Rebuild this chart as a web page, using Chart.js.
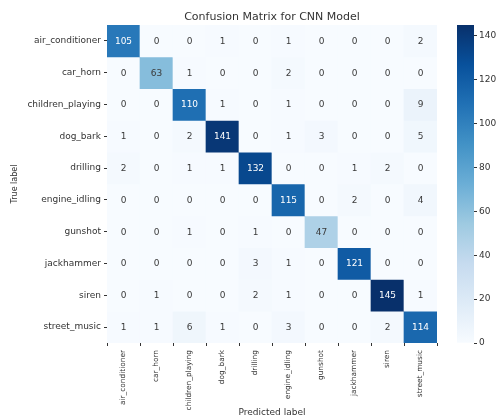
<!DOCTYPE html>
<html><head><meta charset="utf-8">
<script src="https://cdn.jsdelivr.net/npm/chart.js@4/dist/chart.umd.min.js"></script>
<style>
html,body{margin:0;padding:0;background:#fff;}
#wrap{position:relative;width:501px;height:418px;overflow:hidden;}
#main{position:absolute;left:0;top:0;}
#cbar{position:absolute;left:445px;top:0;}
</style></head><body>
<div id="wrap">
<canvas id="main" width="445" height="418"></canvas>
<canvas id="cbar" width="56" height="418"></canvas>
</div>
<script>
const trueLabels = ['air_conditioner','car_horn','children_playing','dog_bark','drilling','engine_idling','gunshot','jackhammer','siren','street_music'];
const predictedLabels = ['air_conditioner','car_horn','children_playing','dog_bark','drilling','engine_idling','gunshot','jackhammer','siren','street_music'];

const airConditionerRow  = [105, 0, 0, 1, 0, 1, 0, 0, 0, 2];
const carHornRow         = [0, 63, 1, 0, 0, 2, 0, 0, 0, 0];
const childrenPlayingRow = [0, 0, 110, 1, 0, 1, 0, 0, 0, 9];
const dogBarkRow         = [1, 0, 2, 141, 0, 1, 3, 0, 0, 5];
const drillingRow        = [2, 0, 1, 1, 132, 0, 0, 1, 2, 0];
const engineIdlingRow    = [0, 0, 0, 0, 0, 115, 0, 2, 0, 4];
const gunshotRow         = [0, 0, 1, 0, 1, 0, 47, 0, 0, 0];
const jackhammerRow      = [0, 0, 0, 0, 3, 1, 0, 121, 0, 0];
const sirenRow           = [0, 1, 0, 0, 2, 1, 0, 0, 145, 1];
const streetMusicRow     = [1, 1, 6, 1, 0, 3, 0, 0, 2, 114];

const colorbarTicks = [0, 20, 40, 60, 80, 100, 120, 140];

const matrix = [airConditionerRow, carHornRow, childrenPlayingRow, dogBarkRow, drillingRow,
                engineIdlingRow, gunshotRow, jackhammerRow, sirenRow, streetMusicRow];
const vmin = 0;
const vmax = Math.max(...matrix.flat());

const FONT = '"DejaVu Sans", sans-serif';
const TEXT = '#333333';

// matplotlib "Blues" colormap anchor colours
const blues = ['#f7fbff','#deebf7','#c6dbef','#9ecae1','#6baed6','#4292c6','#2171b5','#08519c','#08306b'];
function hexToRgb(h){return [parseInt(h.slice(1,3),16),parseInt(h.slice(3,5),16),parseInt(h.slice(5,7),16)];}
const bluesRgb = blues.map(hexToRgb);
function cmap(v){
  let t = (v - vmin) / (vmax - vmin);
  t = Math.max(0, Math.min(1, t));
  const p = t * (bluesRgb.length - 1);
  const i = Math.min(Math.floor(p), bluesRgb.length - 2);
  const f = p - i;
  const a = bluesRgb[i], b = bluesRgb[i+1];
  return [0,1,2].map(k => a[k] + (b[k]-a[k])*f);
}
function rgbStr(c){return 'rgb(' + c.map(x=>Math.round(x)).join(',') + ')';}
function lum(c){
  const l = c.map(x => { x/=255; return x <= 0.03928 ? x/12.92 : Math.pow((x+0.055)/1.055, 2.4); });
  return 0.2126*l[0] + 0.7152*l[1] + 0.0722*l[2];
}
function textColor(v){ return lum(cmap(v)) < 0.408 ? '#ffffff' : '#3a3a3a'; }

const datasets = matrix.map((row, i) => ({
  label: trueLabels[i],
  data: row.map(() => [i - 0.5, i + 0.5]),
  backgroundColor: row.map(v => rgbStr(cmap(v))),
  borderWidth: 0,
  barPercentage: 1,
  categoryPercentage: 1,
  xAxisID: 'x',
  yAxisID: 'y'
}));

const annotate = {
  id: 'annotate',
  afterDatasetsDraw(chart){
    const ctx = chart.ctx;
    ctx.save();
    ctx.font = '9px ' + FONT;
    ctx.textAlign = 'center';
    ctx.textBaseline = 'middle';
    chart.data.datasets.forEach((ds, i) => {
      chart.getDatasetMeta(i).data.forEach((bar, j) => {
        const p = bar.getCenterPoint();
        const v = matrix[i][j];
        ctx.fillStyle = textColor(v);
        ctx.fillText(String(v), p.x, p.y + 0.5);
      });
    });
    ctx.restore();
  }
};

new Chart(document.getElementById('main'), {
  type: 'bar',
  data: { labels: predictedLabels, datasets },
  plugins: [annotate],
  options: {
    responsive: false,
    animation: false,
    events: [],
    layout: { padding: { left: 0, right: 8, top: 0, bottom: 0 } },
    plugins: { legend: { display: false }, tooltip: { enabled: false }, title: { display: false } },
    scales: {
      x: {
        type: 'category',
        position: 'bottom',
        stacked: true,
        offset: true,
        grid: { display: true, drawOnChartArea: false, drawTicks: true, tickLength: 3, color: TEXT, tickColor: TEXT },
        border: { display: false },
        ticks: { minRotation: 90, maxRotation: 90, autoSkip: false, padding: 4, color: TEXT, font: { family: FONT, size: 7.4 } },
        title: { display: true, text: 'Predicted label', color: TEXT, font: { family: FONT, size: 9 }, padding: { top: 0, bottom: 0 } },
        afterFit: s => { s.height = 75; }
      },
      xTop: {
        type: 'category',
        position: 'top',
        display: true,
        grid: { display: false, drawTicks: false },
        border: { display: false },
        ticks: { display: false },
        title: { display: true, text: 'Confusion Matrix for CNN Model', color: TEXT, font: { family: FONT, size: 11 }, padding: { top: 11, bottom: 0 } },
        afterFit: s => { s.height = 25; }
      },
      y: {
        type: 'linear',
        position: 'left',
        reverse: true,
        min: -0.5,
        max: 9.5,
        stacked: false,
        afterBuildTicks: s => { s.ticks = trueLabels.map((_, i) => ({ value: i })); },
        grid: { display: true, drawOnChartArea: false, drawTicks: true, tickLength: 3, color: TEXT, tickColor: TEXT },
        border: { display: false },
        ticks: { padding: 3, color: TEXT, font: { family: FONT, size: 9 }, callback: v => trueLabels[v] },
        title: { display: true, text: 'True label', color: TEXT, font: { family: FONT, size: 8 }, padding: { top: 10, bottom: 0 } },
        afterFit: s => { s.width = 107; }
      }
    }
  }
});

// Colour bar
new Chart(document.getElementById('cbar'), {
  type: 'bar',
  data: { labels: ['cb'], datasets: [{
    data: [[vmin, vmax]],
    borderWidth: 0,
    barPercentage: 1,
    categoryPercentage: 1,
    backgroundColor: (ctx) => {
      const { chart } = ctx;
      const area = chart.chartArea;
      if (!area) return null;
      const yS = chart.scales.y;
      const g = chart.ctx.createLinearGradient(0, yS.getPixelForValue(vmin), 0, yS.getPixelForValue(vmax));
      blues.forEach((c, k) => g.addColorStop(k / (blues.length - 1), c));
      return g;
    }
  }]},
  options: {
    responsive: false,
    animation: false,
    events: [],
    layout: { padding: { left: 12, right: 0, top: 25, bottom: 75 } },
    plugins: { legend: { display: false }, tooltip: { enabled: false } },
    scales: {
      x: { display: false, offset: true },
      y: {
        type: 'linear',
        position: 'right',
        min: vmin,
        max: vmax,
        afterBuildTicks: s => { s.ticks = colorbarTicks.map(v => ({ value: v })); },
        grid: { display: true, drawOnChartArea: false, drawTicks: true, tickLength: 3, color: TEXT, tickColor: TEXT },
        border: { display: false },
        ticks: { padding: 2, color: TEXT, font: { family: FONT, size: 9 } },
        afterFit: s => { s.width = 27; }
      }
    }
  }
});
</script>
</body></html>
